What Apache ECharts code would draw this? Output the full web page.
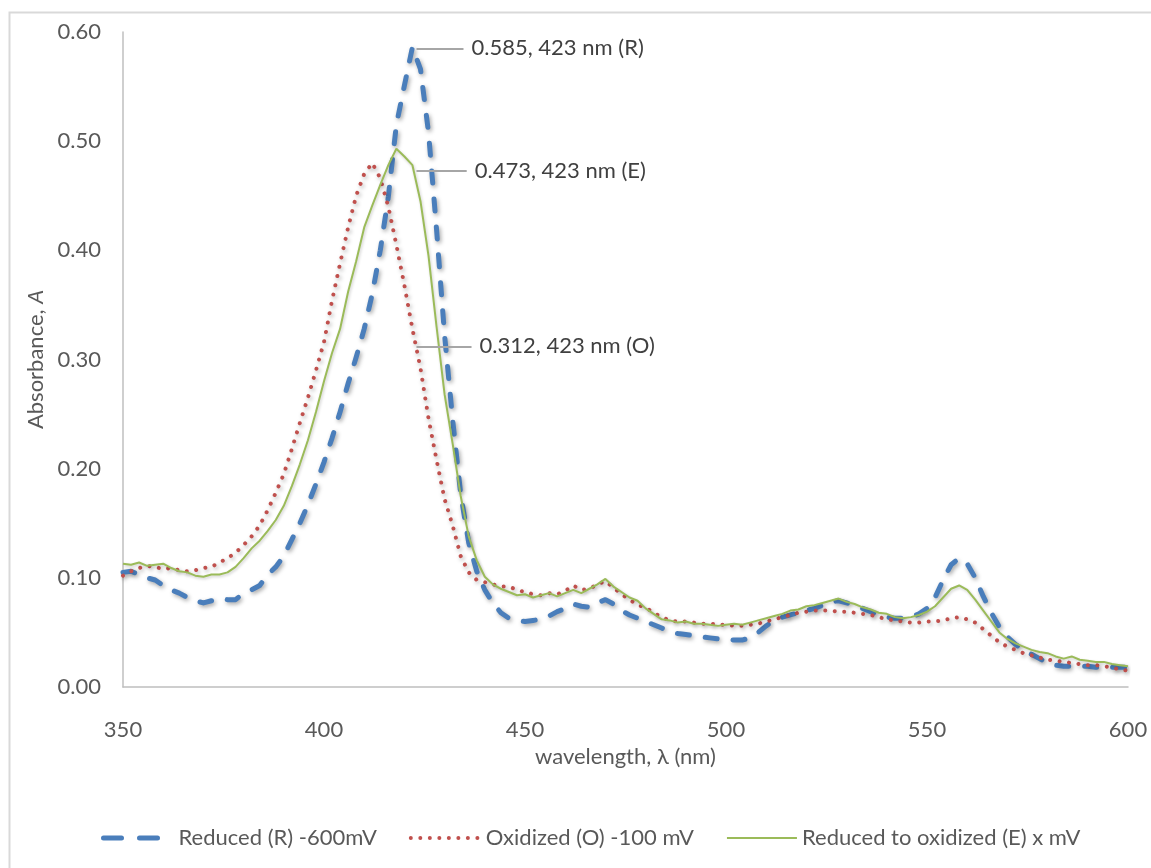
<!DOCTYPE html>
<html><head><meta charset="utf-8">
<script src="https://cdn.jsdelivr.net/npm/echarts@6/dist/echarts.min.js"></script>
<style>html,body{margin:0;padding:0;background:#fff}#c{width:1151px;height:868px}</style>
</head><body><div id="c"></div>
<script>
const wavelength = [
350,352,354,356,358,360,362,364,366,368,
370,372,374,376,378,380,382,384,386,388,
390,392,394,396,398,400,402,404,406,408,
410,412,414,416,418,420,422,424,426,428,
430,432,434,436,438,440,442,444,446,448,
450,452,454,456,458,460,462,464,466,468,
470,472,474,476,478,480,482,484,486,488,
490,492,494,496,498,500,502,504,506,508,
510,512,514,516,518,520,522,524,526,528,
530,532,534,536,538,540,542,544,546,548,
550,552,554,556,558,560,562,564,566,568,
570,572,574,576,578,580,582,584,586,588,
590,592,594,596,598,600];
const reducedR = [
0.105,0.106,0.103,0.100,0.098,0.093,0.089,0.086,0.082,0.079,
0.077,0.079,0.081,0.080,0.080,0.086,0.089,0.093,0.103,0.110,
0.120,0.135,0.150,0.167,0.186,0.206,0.228,0.252,0.278,0.302,
0.328,0.360,0.400,0.449,0.515,0.551,0.586,0.566,0.508,0.419,
0.322,0.245,0.177,0.132,0.106,0.089,0.077,0.068,0.063,0.061,
0.060,0.061,0.062,0.065,0.069,0.072,0.076,0.074,0.073,0.077,
0.080,0.076,0.070,0.066,0.063,0.060,0.057,0.054,0.051,0.049,
0.048,0.047,0.046,0.045,0.044,0.044,0.043,0.043,0.045,0.050,
0.056,0.061,0.064,0.066,0.068,0.070,0.072,0.075,0.078,0.079,
0.077,0.075,0.072,0.069,0.066,0.064,0.063,0.063,0.064,0.067,
0.072,0.082,0.098,0.112,0.118,0.113,0.100,0.083,0.068,0.055,
0.046,0.039,0.034,0.030,0.026,0.022,0.020,0.019,0.019,0.019,
0.019,0.018,0.018,0.018,0.018,0.018];
const oxidizedO = [
0.102,0.106,0.109,0.111,0.110,0.108,0.109,0.107,0.106,0.107,
0.109,0.110,0.114,0.118,0.123,0.130,0.138,0.148,0.162,0.178,
0.195,0.218,0.242,0.265,0.290,0.316,0.354,0.388,0.421,0.450,
0.470,0.480,0.466,0.440,0.405,0.368,0.328,0.292,0.246,0.208,
0.172,0.148,0.120,0.105,0.098,0.096,0.094,0.092,0.092,0.089,
0.087,0.085,0.084,0.086,0.085,0.088,0.093,0.089,0.090,0.094,
0.097,0.091,0.085,0.080,0.075,0.073,0.068,0.064,0.061,0.060,
0.060,0.059,0.058,0.058,0.057,0.057,0.056,0.056,0.057,0.058,
0.060,0.062,0.064,0.066,0.068,0.069,0.070,0.070,0.070,0.069,
0.069,0.068,0.067,0.066,0.064,0.062,0.061,0.060,0.059,0.059,
0.060,0.060,0.061,0.063,0.064,0.062,0.059,0.053,0.047,0.041,
0.037,0.034,0.031,0.029,0.027,0.025,0.024,0.023,0.022,0.021,
0.020,0.020,0.019,0.018,0.016,0.015];
const reducedToOxidizedE = [
0.113,0.112,0.114,0.111,0.112,0.113,0.109,0.106,0.105,0.102,
0.101,0.103,0.103,0.105,0.110,0.118,0.127,0.134,0.143,0.153,
0.166,0.184,0.204,0.226,0.252,0.280,0.306,0.328,0.362,0.390,
0.421,0.441,0.460,0.478,0.493,0.486,0.478,0.445,0.395,0.330,
0.268,0.223,0.175,0.138,0.116,0.101,0.094,0.090,0.087,0.084,
0.085,0.082,0.084,0.086,0.083,0.086,0.089,0.086,0.090,0.094,
0.099,0.092,0.087,0.082,0.079,0.072,0.067,0.062,0.061,0.059,
0.060,0.058,0.058,0.057,0.056,0.057,0.058,0.057,0.059,0.061,
0.063,0.065,0.067,0.070,0.071,0.074,0.075,0.077,0.079,0.081,
0.078,0.076,0.073,0.071,0.068,0.067,0.064,0.063,0.064,0.066,
0.069,0.074,0.082,0.090,0.093,0.089,0.080,0.070,0.060,0.050,
0.044,0.040,0.037,0.034,0.032,0.031,0.028,0.026,0.028,0.025,
0.024,0.023,0.023,0.021,0.020,0.019];
const seriesNames = ['Reduced (R) -600mV', 'Oxidized (O) -100 mV', 'Reduced to oxidized (E) x mV'];
const annotationValues = [0.585, 0.473, 0.312];
const annotationWavelength = 423;
const annotationTexts = ['0.585, 423 nm (R)', '0.473, 423 nm (E)', '0.312, 423 nm (O)'];

const FONT = 'Lato';
const FS = 22;
const chart = echarts.init(document.getElementById('c'), null, {renderer: 'canvas'});
const pairs = arr => wavelength.map((w, i) => [w, arr[i]]);
const leader = (val, len, text) => ({
  silent: true, animation: false, symbol: ['none', 'none'],
  lineStyle: {color: '#a6a6a6', width: 2, type: 'solid', shadowBlur: 0, shadowColor: 'transparent'},
  label: {show: true, position: 'end', distance: 8, formatter: text, color: '#404040', fontSize: FS, fontFamily: FONT},
  emphasis: {disabled: true},
  data: [[{coord: [annotationWavelength, val]}, {coord: [annotationWavelength + len, val]}]]
});
const shadow = {shadowColor: 'rgba(0,0,0,0.35)', shadowBlur: 4, shadowOffsetX: 1.5, shadowOffsetY: 2};

chart.setOption({
  animation: false,
  backgroundColor: '#ffffff',
  graphic: [{type: 'rect', silent: true, shape: {x: 9.5, y: 12.5, width: 1300, height: 1000},
    style: {fill: 'none', stroke: '#d9d9d9', lineWidth: 2}}],
  grid: {left: 123, right: 23, top: 32, bottom: 181, containLabel: false},
  legend: {
    left: 96, top: 822, itemWidth: 70, itemHeight: 14, itemGap: 32,
    textStyle: {color: '#595959', fontSize: FS, fontFamily: FONT},
    itemStyle: {opacity: 0},
    data: [
      {name: seriesNames[0], lineStyle: {color: '#4a7ebb', width: 5, type: [18, 18, 18, 40], cap: 'round'}},
      {name: seriesNames[1], lineStyle: {color: '#c0504d', width: 4, type: [0.01, 9.5], cap: 'round'}},
      {name: seriesNames[2], lineStyle: {color: '#9bbb59', width: 2, type: 'solid'}}
    ]
  },
  xAxis: {
    type: 'value', min: 350, max: 600, interval: 50,
    axisLine: {show: true, lineStyle: {color: '#bfbfbf', width: 1.5}},
    axisTick: {show: false}, splitLine: {show: false},
    axisLabel: {color: '#595959', fontSize: FS, fontFamily: FONT, margin: 32},
    name: 'wavelength, λ (nm)', nameLocation: 'middle', nameGap: 59,
    nameTextStyle: {color: '#595959', fontSize: FS, fontFamily: FONT}
  },
  yAxis: {
    type: 'value', min: 0, max: 0.6, interval: 0.1,
    axisLine: {show: true, lineStyle: {color: '#bfbfbf', width: 1.5}},
    axisTick: {show: false}, splitLine: {show: false},
    axisLabel: {color: '#595959', fontSize: FS, fontFamily: FONT, margin: 22, formatter: v => v.toFixed(2)},
    name: '{a|Absorbance, }{b|A}', nameLocation: 'middle', nameGap: 75,
    nameTextStyle: {rich: {
      a: {color: '#595959', fontSize: FS, fontFamily: FONT},
      b: {color: '#595959', fontSize: FS, fontFamily: FONT, fontStyle: 'italic'}}}
  },
  series: [
    {name: seriesNames[0], type: 'line', data: pairs(reducedR), symbol: 'circle', showSymbol: false, smooth: false,
     lineStyle: Object.assign({color: '#4a7ebb', width: 5, type: [12, 16], cap: 'round', join: 'round'}, shadow),
     itemStyle: {color: '#4a7ebb'}, markLine: leader(annotationValues[0], 11.7, annotationTexts[0])},
    {name: seriesNames[1], type: 'line', data: pairs(oxidizedO), symbol: 'circle', showSymbol: false,
     lineStyle: Object.assign({color: '#c0504d', width: 4, type: [0.01, 9.5], cap: 'round'}, shadow),
     itemStyle: {color: '#c0504d'}, markLine: leader(annotationValues[2], 13.7, annotationTexts[2])},
    {name: seriesNames[2], type: 'line', data: pairs(reducedToOxidizedE), symbol: 'circle', showSymbol: false,
     lineStyle: {color: '#9bbb59', width: 2, shadowColor: 'rgba(0,0,0,0.2)', shadowBlur: 3, shadowOffsetX: 1, shadowOffsetY: 1.5},
     itemStyle: {color: '#9bbb59'}, markLine: leader(annotationValues[1], 12.5, annotationTexts[1])}
  ]
});
</script></body></html>
